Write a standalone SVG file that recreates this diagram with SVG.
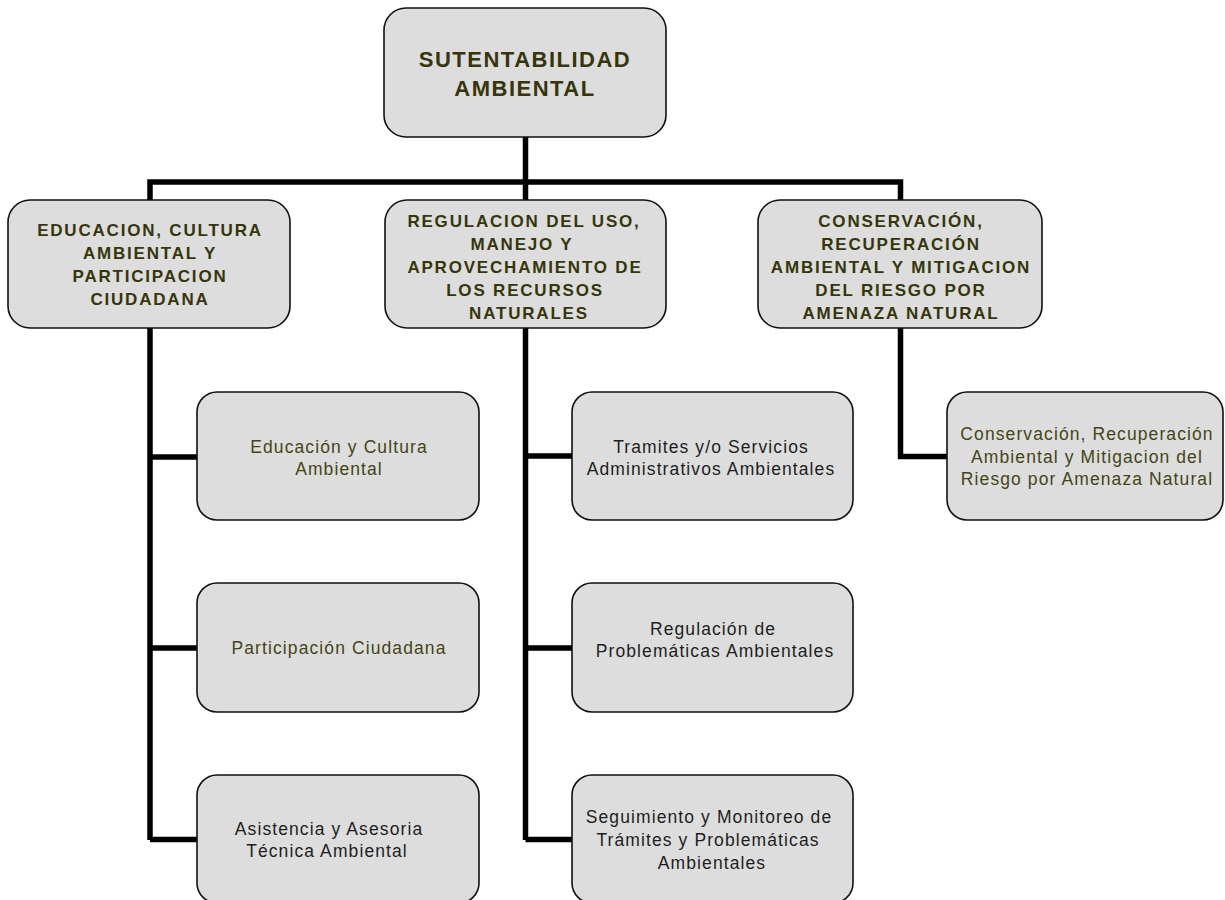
<svg xmlns="http://www.w3.org/2000/svg" width="1225" height="900" viewBox="0 0 1225 900">
<style>
.box{fill:#dddddd;stroke:#111;stroke-width:1.6}
.conn{fill:none;stroke:#000;stroke-width:5.5;stroke-linejoin:miter;stroke-linecap:butt}
.t0{font-family:"Liberation Sans",Arial,sans-serif;font-weight:bold;font-size:22px;letter-spacing:1.5px;fill:#36360a;text-anchor:middle}
.t1{font-family:"Liberation Sans",Arial,sans-serif;font-weight:bold;font-size:17px;letter-spacing:1.8px;fill:#36360a;text-anchor:middle}
.t2{font-family:"Liberation Sans",Arial,sans-serif;font-size:17.5px;letter-spacing:1.1px;text-anchor:middle}
.ol{fill:#454514}
.dk{fill:#1e1e1e}
</style>
<rect width="1225" height="900" fill="#fff"/>
<g id="connectors">
<path class="conn" d="M150,840 V182 H900.5 V456.5 H947"/>
<path class="conn" d="M525.5,137 V840"/>
<path class="conn" d="M150,457 H197 M150,648 H197 M150,839.5 H197"/>
<path class="conn" d="M525.5,456 H572 M525.5,648 H572 M525.5,839.5 H572"/>
</g>
<g id="n-root">
<rect class="box" x="384" y="8" width="282" height="129" rx="22"/>
<text class="t0" x="525" y="67">SUTENTABILIDAD</text>
<text class="t0" x="525" y="95.5">AMBIENTAL</text>
</g>
<g id="n-educacion">
<rect class="box" x="8" y="200" width="282" height="128" rx="22"/>
<text class="t1" x="150" y="236">EDUCACION, CULTURA</text>
<text class="t1" x="150" y="259">AMBIENTAL Y</text>
<text class="t1" x="150" y="282">PARTICIPACION</text>
<text class="t1" x="150" y="305">CIUDADANA</text>
</g>
<g id="n-regulacion">
<rect class="box" x="385" y="200" width="281" height="128" rx="22"/>
<text class="t1" x="524" y="226.5">REGULACION DEL USO,</text>
<text class="t1" x="522" y="250">MANEJO Y</text>
<text class="t1" x="525" y="273">APROVECHAMIENTO DE</text>
<text class="t1" x="525" y="296">LOS RECURSOS</text>
<text class="t1" x="529" y="319">NATURALES</text>
</g>
<g id="n-conservacion">
<rect class="box" x="758" y="200" width="284" height="128" rx="22"/>
<text class="t1" x="901" y="226.5">CONSERVACIÓN,</text>
<text class="t1" x="901" y="250">RECUPERACIÓN</text>
<text class="t1" x="901" y="273">AMBIENTAL Y MITIGACION</text>
<text class="t1" x="901" y="296">DEL RIESGO POR</text>
<text class="t1" x="901" y="319">AMENAZA NATURAL</text>
</g>
<g id="n-educ-cultura">
<rect class="box" x="197" y="392" width="282" height="128" rx="20"/>
<text class="t2 ol" x="339" y="453">Educación y Cultura</text>
<text class="t2 ol" x="339" y="475">Ambiental</text>
</g>
<g id="n-participacion">
<rect class="box" x="197" y="583" width="282" height="129" rx="20"/>
<text class="t2 ol" x="339" y="654">Participación Ciudadana</text>
</g>
<g id="n-asistencia">
<rect class="box" x="197" y="775" width="282" height="128" rx="20"/>
<text class="t2 dk" x="329" y="835">Asistencia y Asesoria</text>
<text class="t2 dk" x="327" y="857">Técnica Ambiental</text>
</g>
<g id="n-tramites">
<rect class="box" x="572" y="392" width="281" height="128" rx="20"/>
<text class="t2 dk" x="711" y="453">Tramites y/o Servicios</text>
<text class="t2 dk" x="711" y="475">Administrativos Ambientales</text>
</g>
<g id="n-regul-problem">
<rect class="box" x="572" y="583" width="281" height="129" rx="20"/>
<text class="t2 dk" x="713" y="635">Regulación de</text>
<text class="t2 dk" x="715" y="657">Problemáticas Ambientales</text>
</g>
<g id="n-seguimiento">
<rect class="box" x="572" y="775" width="281" height="128" rx="20"/>
<text class="t2 dk" x="709" y="823">Seguimiento y Monitoreo de</text>
<text class="t2 dk" x="708" y="846">Trámites y Problemáticas</text>
<text class="t2 dk" x="712" y="869">Ambientales</text>
</g>
<g id="n-conserv-leaf">
<rect class="box" x="947" y="392" width="276" height="128" rx="20"/>
<text class="t2 ol" x="1087" y="440">Conservación, Recuperación</text>
<text class="t2 ol" x="1087" y="463">Ambiental y Mitigacion del</text>
<text class="t2 ol" x="1087" y="485">Riesgo por Amenaza Natural</text>
</g>
</svg>
